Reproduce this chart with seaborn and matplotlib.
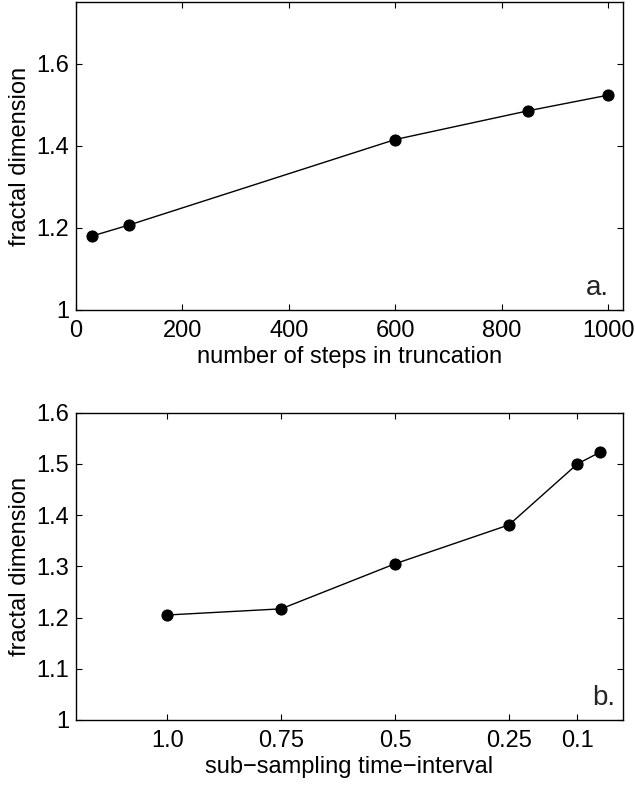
import matplotlib
matplotlib.use("Agg")
import matplotlib.pyplot as plt
import seaborn as sns
import pandas as pd

# Panel a
steps = [30, 100, 600, 850, 1000]
dim_a = [1.180, 1.207, 1.415, 1.485, 1.523]
# Panel b
interval = [1.0, 0.75, 0.5, 0.25, 0.1, 0.05]
dim_b = [1.205, 1.217, 1.305, 1.381, 1.500, 1.523]
xticks_b = [1.0, 0.75, 0.5, 0.25, 0.1]
xticklabels_b = ["1.0", "0.75", "0.5", "0.25", "0.1"]

sns.set_theme(style="white")
plt.rcParams['font.family'] = ['Liberation Sans', 'DejaVu Sans']
plt.rcParams['xtick.direction'] = 'in'
plt.rcParams['ytick.direction'] = 'in'

fig = plt.figure(figsize=(6.35, 7.88), dpi=100)
ax1 = fig.add_axes([0.1197, 0.6066, 0.8614, 0.391])
ax2 = fig.add_axes([0.1197, 0.0863, 0.8614, 0.390])

fs = 17
dfa = pd.DataFrame({"x": steps, "y": dim_a})
sns.lineplot(data=dfa, x="x", y="y", ax=ax1, color="black", lw=1.0,
             marker="o", markersize=8, markeredgecolor="black")
ax1.set_xlim(0, 1028)
ax1.set_ylim(1, 1.75)
ax1.set_xticks([0, 200, 400, 600, 800, 1000])
ax1.set_yticks([1, 1.2, 1.4, 1.6])
ax1.set_yticklabels(["1", "1.2", "1.4", "1.6"])
ax1.set_xlabel("number of steps in truncation", fontsize=fs, labelpad=3)
ax1.set_ylabel("fractal dimension", fontsize=fs, labelpad=4)
ax1.text(0.975, 0.03, "a.", transform=ax1.transAxes, ha="right", va="bottom", fontsize=20)

dfb = pd.DataFrame({"x": interval, "y": dim_b})
sns.lineplot(data=dfb, x="x", y="y", ax=ax2, color="black", lw=1.0,
             marker="o", markersize=8, markeredgecolor="black")
ax2.set_xlim(1.2, 0.0)
ax2.set_ylim(1, 1.6)
ax2.set_xticks(xticks_b)
ax2.set_xticklabels(xticklabels_b)
ax2.set_yticks([1, 1.1, 1.2, 1.3, 1.4, 1.5, 1.6])
ax2.set_yticklabels(["1", "1.1", "1.2", "1.3", "1.4", "1.5", "1.6"])
ax2.set_xlabel("sub\u2212sampling time\u2212interval", fontsize=fs, labelpad=3)
ax2.set_ylabel("fractal dimension", fontsize=fs, labelpad=4)
ax2.text(0.985, 0.03, "b.", transform=ax2.transAxes, ha="right", va="bottom", fontsize=20)

for ax in (ax1, ax2):
    for s in ax.spines.values():
        s.set_visible(True)
        s.set_color("black")
        s.set_linewidth(1.0)
    ax.tick_params(axis="both", which="both", direction="in", top=True, right=True,
                   bottom=True, left=True, length=4, width=0.8, labelsize=fs, colors="black")
    ax.tick_params(axis="x", pad=7)
    ax.tick_params(axis="y", pad=5)
    ax.xaxis.label.set_color("black")
    ax.yaxis.label.set_color("black")
    ax.grid(False)

fig.savefig("out.png", dpi=100)
